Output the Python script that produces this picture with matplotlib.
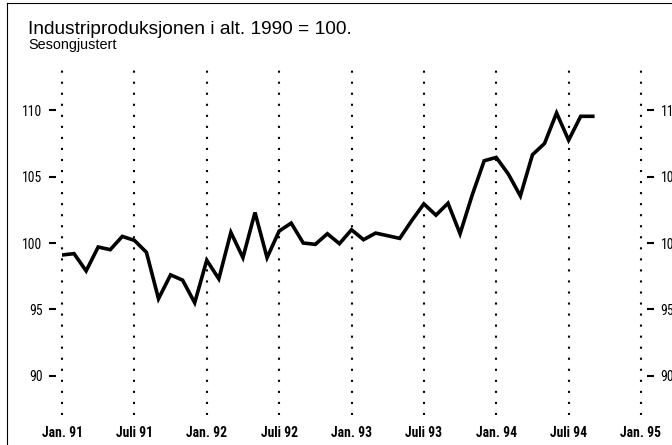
import numpy as np
import matplotlib
matplotlib.use("Agg")
import matplotlib.pyplot as plt
from matplotlib import font_manager
from matplotlib.lines import Line2D

# monthly index, seasonally adjusted, Jan 91 .. Sep 94
values = [99.1, 99.2, 97.9, 99.7, 99.5, 100.5, 100.2, 99.3, 95.8, 97.6,
          97.2, 95.5, 98.7, 97.3, 100.8, 98.9, 102.3, 98.9, 100.9, 101.5,
          100.0, 99.9, 100.7, 99.95, 101.0, 100.25, 100.75, 100.55, 100.35, 101.7,
          102.95, 102.1, 103.0, 100.7, 103.6, 106.2, 106.45, 105.2, 103.55, 106.65,
          107.5, 109.8, 107.75, 109.55, 109.55]
tick_months = [0, 6, 12, 18, 24, 30, 36, 42, 48]
tick_labels = ["Jan. 91", "Juli 91", "Jan. 92", "Juli 92", "Jan. 93",
               "Juli 93", "Jan. 94", "Juli 94", "Jan. 95"]
y_ticks = [90, 95, 100, 105, 110]

title = "Industriproduksjonen i alt. 1990 = 100."
subtitle = "Sesongjustert"

# look for a condensed face for the tick labels
narrow = None
for cand in ["Liberation Sans Narrow", "DejaVu Sans Condensed", "Roboto Condensed",
             "Open Sans Condensed"]:
    try:
        font_manager.findfont(cand, fallback_to_default=False)
        narrow = cand
        break
    except Exception:
        pass
if narrow is None:
    narrow = "Liberation Sans"
    tick_size = 8.3
else:
    tick_size = 9.8

plt.rcParams['font.family'] = ['Liberation Sans', 'DejaVu Sans']

fig = plt.figure(figsize=(6.72, 4.45), dpi=100)
ax = fig.add_axes([62 / 672, 1 - 415 / 445, 579 / 672, 347 / 445])

x = np.arange(len(values))
ax.plot(x, values, color="black", lw=2.6, solid_joinstyle="miter")

for m in tick_months:
    ax.axvline(m, color="black", lw=1.5, linestyle=(0, (1, 4.3)), clip_on=False)

ax.set_xlim(0, 48)
ax.set_ylim(87.04, 113.19)

for s in ax.spines.values():
    s.set_visible(False)
ax.spines['left'].set_position(('outward', 4))
ax.spines['right'].set_position(('outward', 4))

ax.set_yticks(y_ticks)
ax.set_yticklabels([str(v) for v in y_ticks], fontfamily=narrow, fontsize=tick_size)
ax.tick_params(axis="y", left=True, right=True, labelleft=True, labelright=True,
               length=5, width=1.5, pad=5)

ax.set_xticks(tick_months)
ax.set_xticklabels(tick_labels, fontfamily=narrow, fontweight="bold", fontsize=tick_size)
ax.tick_params(axis="x", length=0, pad=8)

fig.text(28 / 672, 1 - 34.5 / 445, title, fontsize=13.8, ha="left", va="baseline")
fig.text(28 / 672, 1 - 48.5 / 445, subtitle, fontsize=10.4, ha="left", va="baseline")

# frame lines of the original clipping
fig.add_artist(Line2D([7 / 672, 1], [1 - 3 / 445, 1 - 3 / 445], color="black", lw=0.8))
fig.add_artist(Line2D([7 / 672, 7 / 672], [0, 1 - 3 / 445], color="black", lw=0.8))

fig.savefig("out.png", dpi=100)
